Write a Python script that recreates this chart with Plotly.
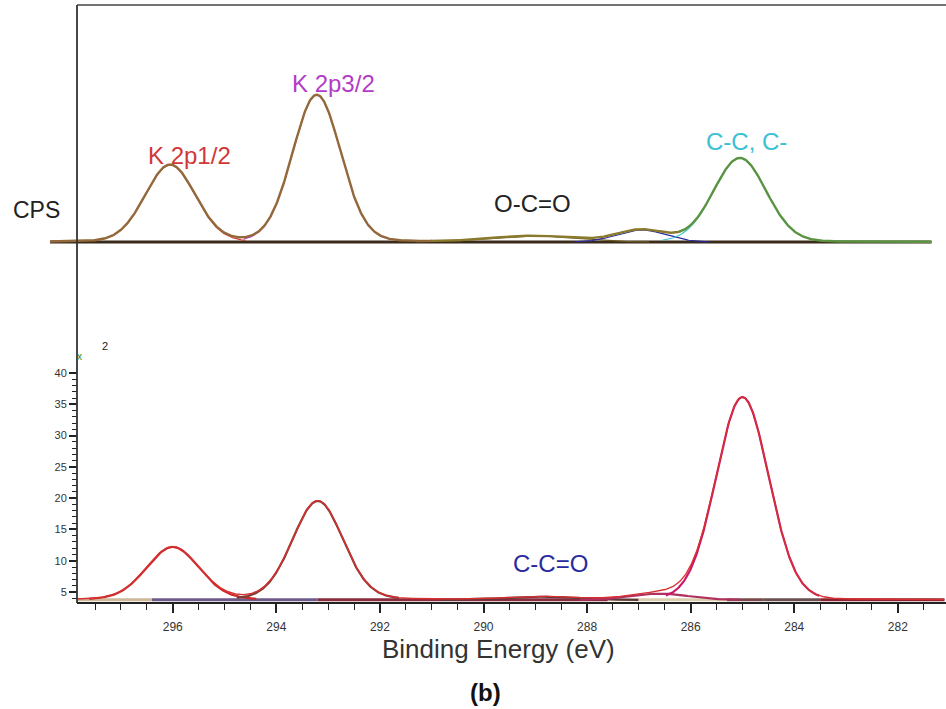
import numpy as np
import plotly.graph_objects as go

# ---------------- data ----------------
x_tick_values = [296, 294, 292, 290, 288, 286, 284, 282]
x_tick_labels = ["296", "294", "292", "290", "288", "286", "284", "282"]
x_minor_values = [281.5, 282.5, 283, 283.5, 284.5, 285, 285.5, 286.5, 287, 287.5,
                  288.5, 289, 289.5, 290.5, 291, 291.5, 292.5, 293, 293.5,
                  294.5, 295, 295.5, 296.5, 297, 297.5]
y_tick_values = [5, 10, 15, 20, 25, 30, 35, 40]
y_tick_labels = ["5", "10", "15", "20", "25", "30", "35", "40"]
y_minor_values = list(range(4, 41))

# upper spectrum (arbitrary CPS units, baseline = 0)
top_names = ["K 2p1/2", "K 2p3/2", "O-C=O", "C-O", "C-C, C-H"]
top_centers = [296.05, 293.22, 289.05, 286.95, 285.05]
top_heights = [77, 147, 6, 12, 84]
top_fwhm = [1.14, 1.1, 1.9, 1.1, 1.2]
top_lorentz = [0.08, 0.08, 0.0, 0.0, 0.06]
top_span = [298.37, 281.35]
top_region_breaks = [291.0, 286.2]

# lower spectrum (CPS scale shown on the axis)
bot_names = ["K 2p1/2", "K 2p3/2", "C-C=O", "C-O", "C-C"]
bot_centers = [296.0, 293.2, 288.9, 286.6, 285.0]
bot_heights = [8.45, 15.8, 0.5, 1.0, 32.4]
bot_fwhm = [1.2, 1.16, 1.6, 1.3, 1.2]
bot_lorentz = [0.12, 0.12, 0.0, 0.0, 0.05]
bot_baseline = 3.75
bot_span = [297.85, 281.1]
bot_baseline_breaks = [297.85, 296.4, 293.2, 287.6, 285.3, 284.6, 283.5, 281.1]

# ---------------- styles ----------------
top_comp_colors = ["#cc3a3a", "#c040c0", "#6a5a20", "#2a2aa0", "#38c4d0"]
bot_comp_colors = ["#cc2a2a", "#7a3c34", "#5a3a3a", "#b03060", "#c8186a"]
bot_base_colors = ["#cdb99a", "#6e5a88", "#8a2a3c", "#dccfb0", "#7a4a4a",
                   "#6a5050", "#8a2030"]
FONT = "Liberation Sans, Arial, sans-serif"


def peak(e, c, h, w, m):
    d2 = (e - c) ** 2 / w ** 2
    g = np.exp(-4 * np.log(2) * d2)
    lo = 1.0 / (1.0 + 4 * d2)
    return h * ((1 - m) * g + m * lo)


fig = go.Figure()

# ---- upper spectrum ----
e_top = np.linspace(top_span[0], top_span[1], 1200)
top_comps = [peak(e_top, c, h, w, m) for c, h, w, m in
             zip(top_centers, top_heights, top_fwhm, top_lorentz)]
top_env = np.sum(top_comps, axis=0)

fig.add_trace(go.Scatter(x=[top_span[0], top_span[1]], y=[0, 0], mode="lines",
                         line=dict(color="#3b2b1b", width=3), yaxis="y2",
                         hoverinfo="skip", showlegend=False))
for comp, col, name, h in zip(top_comps, top_comp_colors, top_names, top_heights):
    mk = comp > 0.02 * h
    fig.add_trace(go.Scatter(x=e_top[mk], y=comp[mk], mode="lines", name=name,
                             line=dict(color=col, width=1.2), yaxis="y2",
                             showlegend=False))
env_colors = ["#93683a", "#8a7a2e", "#5a9440"]
masks = [e_top >= top_region_breaks[0] - 0.02,
         (e_top <= top_region_breaks[0] + 0.02) & (e_top >= top_region_breaks[1] - 0.02),
         e_top <= top_region_breaks[1] + 0.02]
for mk, col in zip(masks, env_colors):
    fig.add_trace(go.Scatter(x=e_top[mk], y=top_env[mk], mode="lines",
                             line=dict(color=col, width=2.4), yaxis="y2",
                             showlegend=False))

# ---- lower spectrum ----
e_bot = np.linspace(bot_span[0], bot_span[1], 1200)
bot_comps = [peak(e_bot, c, h, w, m) for c, h, w, m in
             zip(bot_centers, bot_heights, bot_fwhm, bot_lorentz)]
bot_env = bot_baseline + np.sum(bot_comps, axis=0)

for i, col in enumerate(bot_base_colors):
    fig.add_trace(go.Scatter(x=[bot_baseline_breaks[i], bot_baseline_breaks[i + 1]],
                             y=[bot_baseline, bot_baseline], mode="lines",
                             line=dict(color=col, width=3), yaxis="y",
                             hoverinfo="skip", showlegend=False))
for comp, col, name, h in zip(bot_comps, bot_comp_colors, bot_names, bot_heights):
    mk = comp > 0.02 * h
    fig.add_trace(go.Scatter(x=e_bot[mk], y=bot_baseline + comp[mk], mode="lines",
                             name=name, line=dict(color=col, width=2.2),
                             yaxis="y", showlegend=False))
fig.add_trace(go.Scatter(x=e_bot, y=bot_env, mode="lines",
                         line=dict(color="#d83030", width=1.4), yaxis="y",
                         showlegend=False))

# ---- annotations ----
ann = [
    dict(text="K 2p1/2", x=295.67, y=87, yref="y2", color="#d03838"),
    dict(text="K 2p3/2", x=292.89, y=159, yref="y2", color="#b23cc8"),
    dict(text="O-C=O", x=289.06, y=39, yref="y2", color="#222222"),
    dict(text="C-C, C-", x=284.93, y=101, yref="y2", color="#3cc0d4"),
    dict(text="C-C=O", x=288.70, y=9.64, yref="y", color="#2a2aa0"),
]
annotations = [dict(text=a["text"], x=a["x"], y=a["y"], xref="x", yref=a["yref"],
                    xanchor="center", yanchor="middle", showarrow=False,
                    font=dict(family=FONT, size=24, color=a["color"]))
               for a in ann]
annotations += [
    dict(text="CPS", x=-0.0156, y=32, xref="paper", yref="y2", showarrow=False,
         xanchor="center", yanchor="middle",
         font=dict(family=FONT, size=23, color="#222222")),
    dict(text="2", x=297.31, y=44.3, xref="x", yref="y", showarrow=False,
         xanchor="center", yanchor="middle",
         font=dict(family=FONT, size=11, color="#222222")),
    dict(text="x", x=297.81, y=42.6, xref="x", yref="y", showarrow=False,
         xanchor="center", yanchor="middle",
         font=dict(family=FONT, size=10, color="#2a8a2a")),
    dict(text="Binding Energy (eV)", x=0.5, y=-0.077, xref="paper", yref="paper",
         xanchor="center", yanchor="middle", showarrow=False,
         font=dict(family=FONT, size=26, color="#333333")),
    dict(text="<b>(b)</b>", x=0.4855, y=-0.149, xref="paper", yref="paper",
         xanchor="center", yanchor="middle", showarrow=False,
         font=dict(family=FONT, size=24, color="#111111")),
]

axis_pos = 27 / 896

fig.update_layout(
    width=946, height=709,
    margin=dict(l=50, r=0, t=5, b=106),
    paper_bgcolor="white", plot_bgcolor="white",
    showlegend=False,
    xaxis=dict(range=[298.37, 281.07], showgrid=False, zeroline=False,
               showline=False, tickmode="array", tickvals=x_tick_values,
               ticktext=x_tick_labels, ticks="outside", ticklen=9, tickwidth=1.5,
               tickcolor="#222222", ticklabelstandoff=4,
               tickfont=dict(family=FONT, size=12, color="#333333"),
               minor=dict(tickmode="array", tickvals=x_minor_values, ticks="outside",
                          ticklen=6, tickwidth=1.3, tickcolor="#222222")),
    yaxis=dict(range=[3.25, 98.8], anchor="free", position=axis_pos,
               showgrid=False, zeroline=False, showline=False,
               tickmode="array", tickvals=y_tick_values, ticktext=y_tick_labels,
               ticks="outside", ticklen=8, tickwidth=1.5, tickcolor="#222222",
               tickfont=dict(family=FONT, size=11, color="#333333"),
               minor=dict(tickmode="array", tickvals=y_minor_values, ticks="outside",
                          ticklen=5, tickwidth=1.2, tickcolor="#222222")),
    yaxis2=dict(range=[-361, 237], overlaying="y", visible=False),
    annotations=annotations,
    shapes=[
        dict(type="line", xref="paper", yref="paper", x0=axis_pos, x1=axis_pos,
             y0=0, y1=1, line=dict(color="#333333", width=1.8)),
        dict(type="line", xref="paper", yref="paper", x0=axis_pos, x1=1,
             y0=1, y1=1, line=dict(color="#444444", width=1.5)),
        dict(type="line", xref="paper", yref="paper", x0=axis_pos, x1=1,
             y0=0, y1=0, line=dict(color="#222222", width=2)),
    ],
)

fig.write_html("out.html")
